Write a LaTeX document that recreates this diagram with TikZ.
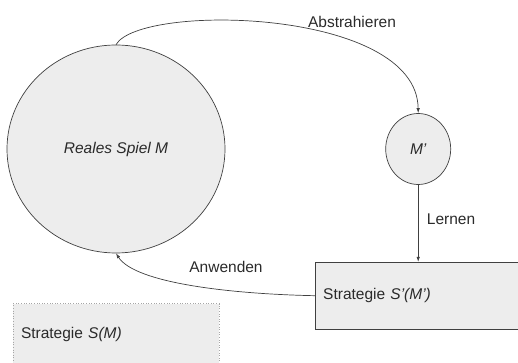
\documentclass[tikz,border=0pt]{standalone}
\usepackage{fontspec}
\setmainfont{Liberation Sans}
\usetikzlibrary{arrows.meta,positioning}
\usetikzlibrary{shapes.geometric}

\definecolor{boxfill}{HTML}{EDEDED}
\definecolor{lineclr}{HTML}{404040}
\definecolor{textclr}{HTML}{2A2A2A}

\begin{document}
\begin{tikzpicture}[
    x=1pt, y=1pt,
    font=\fontsize{15.5}{18}\selectfont,
    text=textclr,
    >={Latex[length=5pt,width=3.5pt]},
    % Stile
    game/.style={draw=lineclr, ellipse, fill=boxfill, inner sep=0pt, line width=0.7pt},
    stratbox/.style={draw=lineclr, rectangle, fill=boxfill, line width=0.7pt, minimum height=67pt, inner sep=8pt, text width=200pt, align=left},
    ghostbox/.style={draw=gray!70, dotted, rectangle, fill=boxfill, line width=0.6pt, minimum height=62pt, inner sep=8pt, text width=190pt, align=left},
    line/.style={draw=lineclr, ->, line width=0.7pt}
]
    \clip (0,0) rectangle (518,363);

    % --- 1. Nodes ---

    % Reales Spiel
    \node[game, minimum width=218pt, minimum height=208pt] (spiel) at (116,214) {\itshape Reales Spiel M};

    % abstrahiertes Spiel
    \node[game, minimum width=65pt, minimum height=71pt, right=160pt of spiel] (mstrich) {\itshape M’};

    % Strategie fuer M'
    \node[stratbox, below=77pt of mstrich, xshift=5pt] (strat) {Strategie \textit{S’(M’)}};

    % Strategie fuer M (gepunktet)
    \node[ghostbox, below=50pt of spiel] (stratm) {Strategie \textit{S(M)}};

    % --- 2. Paths ---

    % Spiel -> M'
    \draw[line] (spiel.north) .. controls (140,360) and (417,355) .. (mstrich.north);
    \node (abstr) at (352,341) {Abstrahieren};

    % M' -> Strategie
    \draw[line] (mstrich.south) -- (mstrich.south |- strat.north)
        node[midway, right=5pt, yshift=4pt] (lernen) {Lernen};

    % Strategie -> Spiel
    \draw[line] (strat.west) .. controls (230,69) and (135,80) .. (spiel.south);
    \node (anw) at (226,96) {Anwenden};

\end{tikzpicture}
\end{document}
